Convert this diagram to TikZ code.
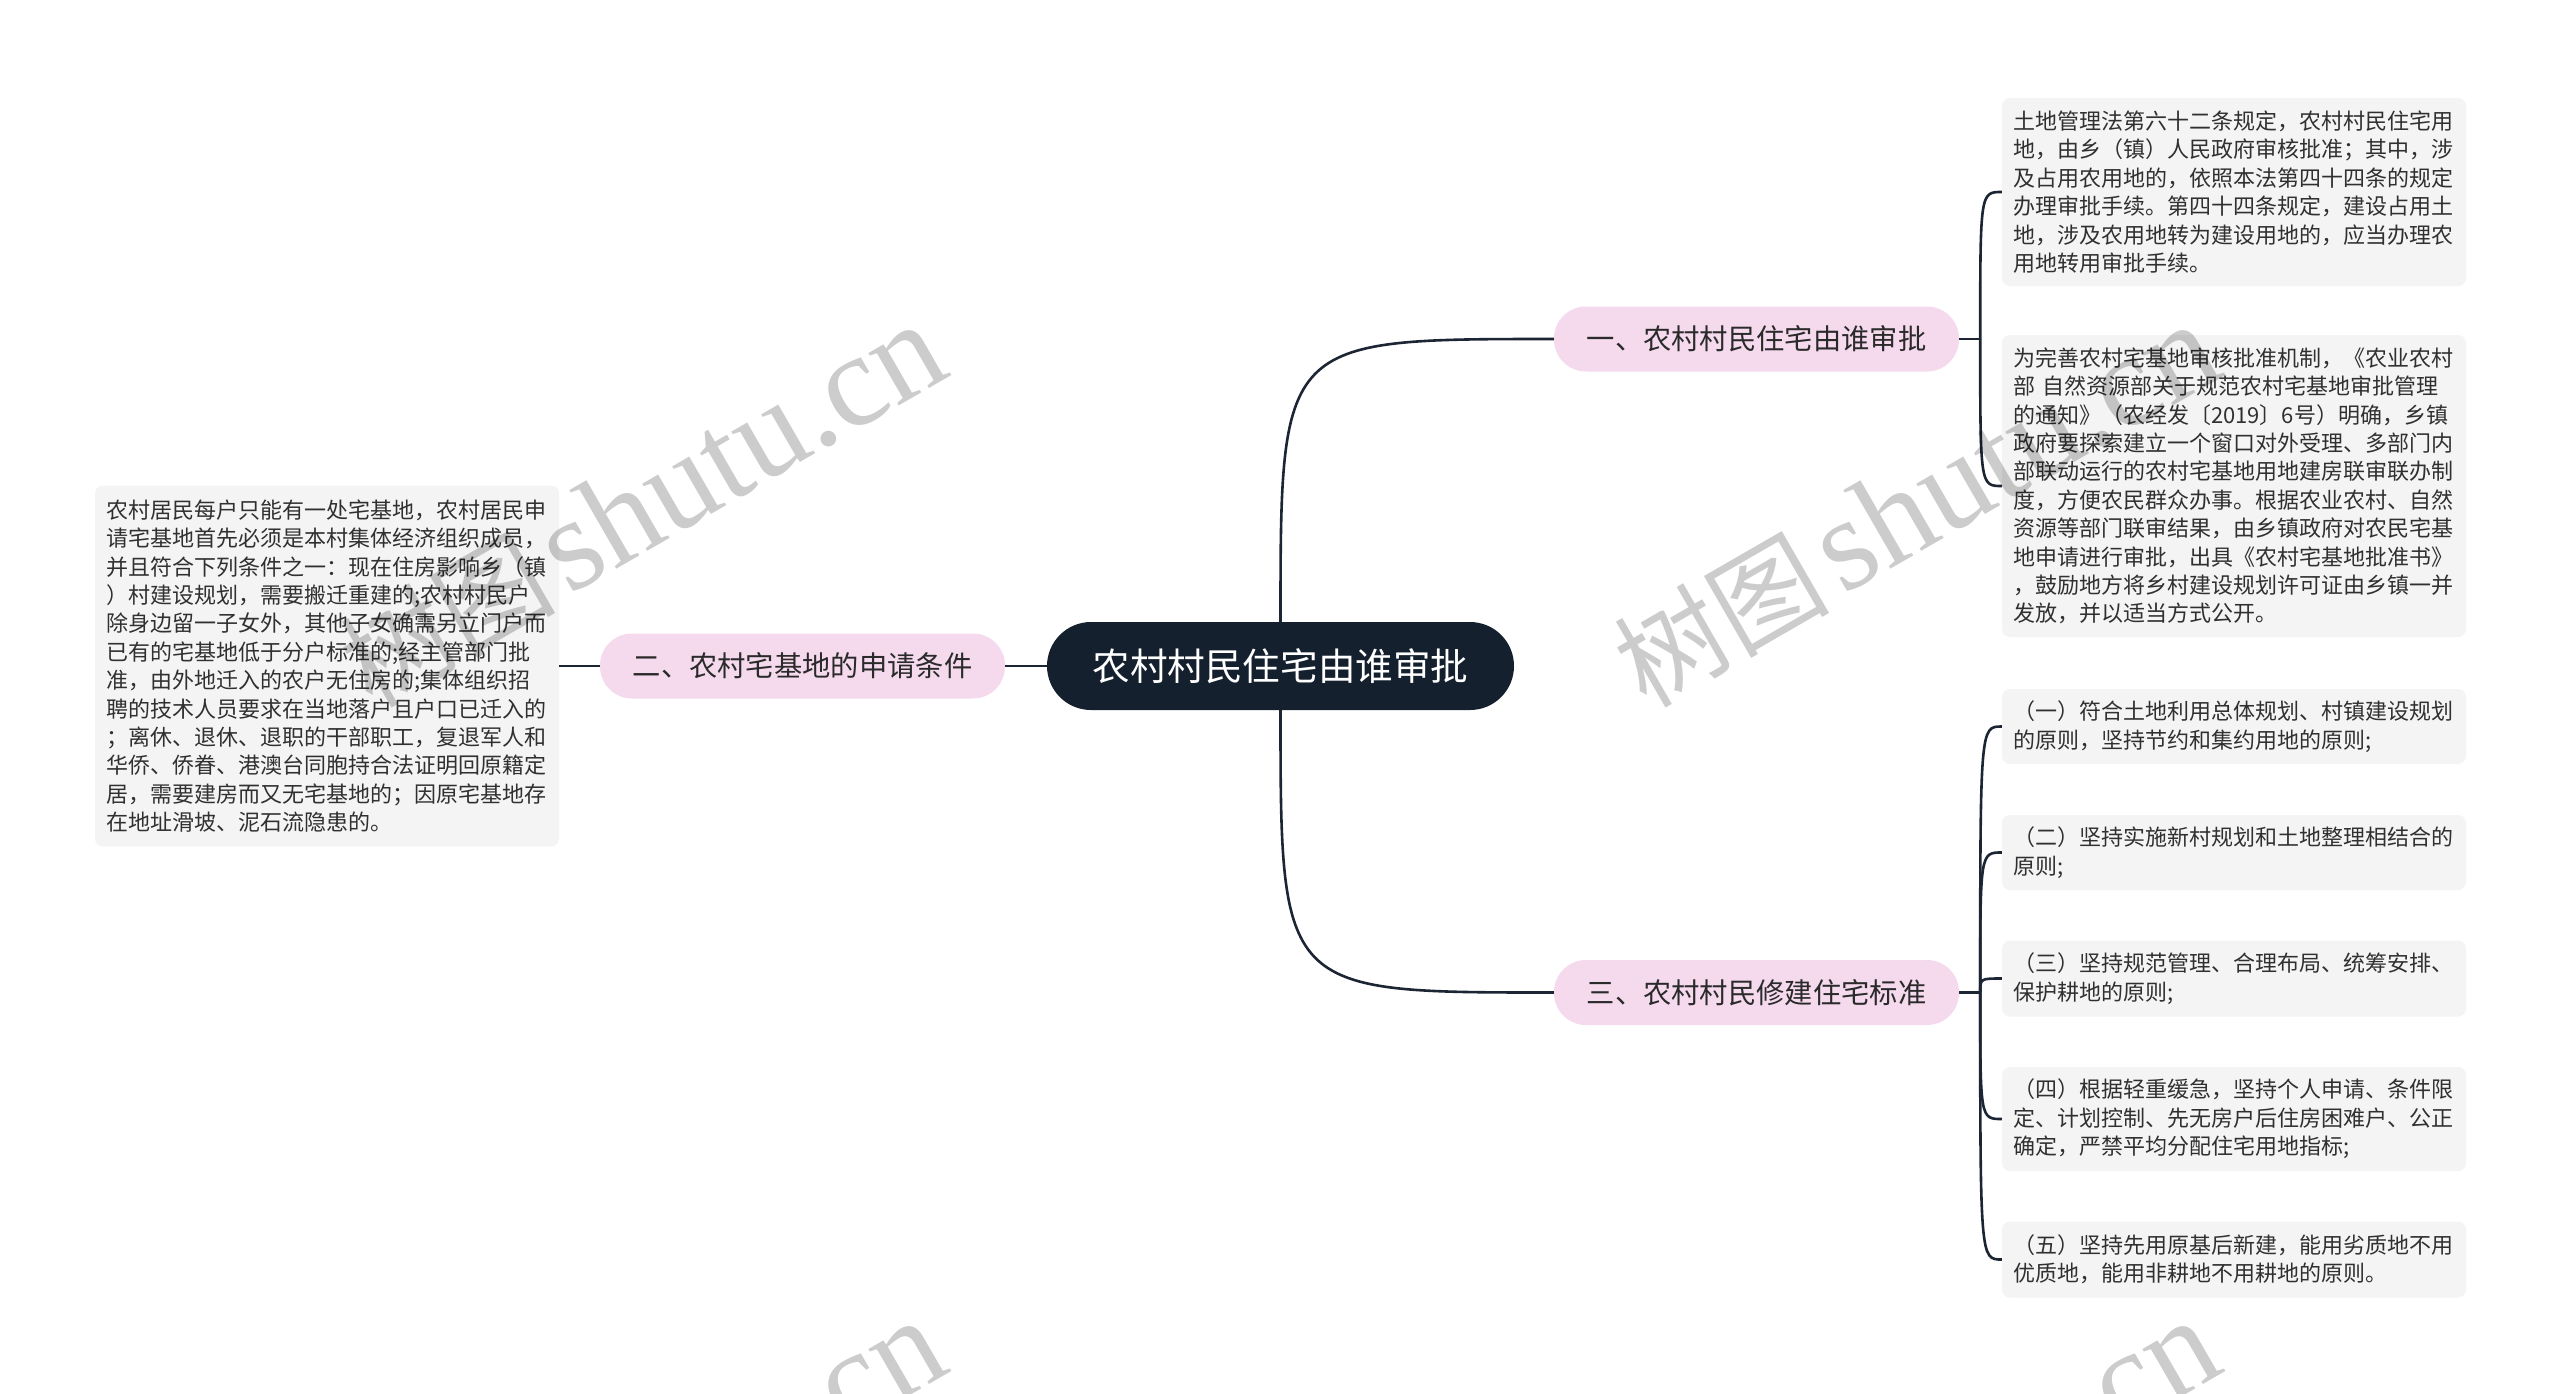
\documentclass[tikz,border=0pt]{standalone}
\usepackage{fontspec}
\setmainfont{Noto Sans CJK SC}
\newfontfamily\wmlatin{Liberation Serif}
\newfontfamily\wmcjk{Noto Sans CJK SC}
\definecolor{linec}{HTML}{1B2533}
\definecolor{rootbg}{HTML}{14202E}
\definecolor{pinkbg}{HTML}{F5DAEE}
\definecolor{leafbg}{HTML}{F4F4F4}
\definecolor{leaftxt}{HTML}{303030}
\definecolor{branchtxt}{HTML}{2A2A2A}
\newcommand{\wmtext}{{\wmcjk\fontsize{108}{108}\selectfont 树图\hspace{12pt}}{\wmlatin\fontsize{132}{132}\selectfont shutu.cn}}
\tikzset{
  conn/.style={draw=linec, line width=2.6pt},
  leafbox/.style={fill=leafbg, rounded corners=8pt, text width=442pt, inner xsep=11pt, inner ysep=0pt, align=left, text=leaftxt, font=\fontsize{22}{28.4}\selectfont},
  branchbox/.style={fill=pinkbg, rounded corners=32pt, minimum width=405pt, minimum height=65pt, inner sep=0pt, text=branchtxt, font=\fontsize{28.3}{34}\selectfont},
  rootbox/.style={fill=rootbg, rounded corners=44pt, minimum width=467pt, minimum height=88pt, inner sep=0pt, text=white, font=\fontsize{37.6}{45}\selectfont},
  wm/.style={anchor=base west, rotate=30, text=black, text opacity=0.2, inner sep=0pt}
}
\begin{document}
\begin{tikzpicture}[x=1pt,y=-1pt]
\fill[white] (0,0) rectangle (2560,1393);
\useasboundingbox (0,0) rectangle (2560,1393);

% root and branches
\node[rootbox] (root) at (1280.5,666) {农村村民住宅由谁审批};
\node[branchbox] (b1) at (1756.5,339) {一、农村村民住宅由谁审批};
\node[branchbox] (b2) at (802.5,666) {二、农村宅基地的申请条件};
\node[branchbox] (b3) at (1756.5,992.5) {三、农村村民修建住宅标准};

% leaves
\node[leafbox, minimum height=188pt] (r1) at (2234,192) {土地管理法第六十二条规定，农村村民住宅用\\地，由乡（镇）人民政府审核批准；其中，涉\\及占用农用地的，依照本法第四十四条的规定\\办理审批手续。第四十四条规定，建设占用土\\地，涉及农用地转为建设用地的，应当办理农\\用地转用审批手续。};
\node[leafbox, minimum height=302pt] (r2) at (2234,486) {为完善农村宅基地审核批准机制，《农业农村\\部 自然资源部关于规范农村宅基地审批管理\\的通知》（农经发〔2019〕6号）明确，乡镇\\政府要探索建立一个窗口对外受理、多部门内\\部联动运行的农村宅基地用地建房联审联办制\\度，方便农民群众办事。根据农业农村、自然\\资源等部门联审结果，由乡镇政府对农民宅基\\地申请进行审批，出具《农村宅基地批准书》\\，鼓励地方将乡村建设规划许可证由乡镇一并\\发放，并以适当方式公开。};
\node[leafbox, minimum height=361pt] (l1) at (327,666) {农村居民每户只能有一处宅基地，农村居民申\\请宅基地首先必须是本村集体经济组织成员，\\并且符合下列条件之一：现在住房影响乡（镇\\）村建设规划，需要搬迁重建的;农村村民户\\除身边留一子女外，其他子女确需另立门户而\\已有的宅基地低于分户标准的;经主管部门批\\准，由外地迁入的农户无住房的;集体组织招\\聘的技术人员要求在当地落户且户口已迁入的\\；离休、退休、退职的干部职工，复退军人和\\华侨、侨眷、港澳台同胞持合法证明回原籍定\\居，需要建房而又无宅基地的；因原宅基地存\\在地址滑坡、泥石流隐患的。};
\node[leafbox, minimum height=75pt] (s1) at (2234,726.5) {（一）符合土地利用总体规划、村镇建设规划\\的原则，坚持节约和集约用地的原则;};
\node[leafbox, minimum height=75pt] (s2) at (2234,852.5) {（二）坚持实施新村规划和土地整理相结合的\\原则;};
\node[leafbox, minimum height=76pt] (s3) at (2234,978.5) {（三）坚持规范管理、合理布局、统筹安排、\\保护耕地的原则;};
\node[leafbox, minimum height=104pt] (s4) at (2234,1119) {（四）根据轻重缓急，坚持个人申请、条件限\\定、计划控制、先无房户后住房困难户、公正\\确定，严禁平均分配住宅用地指标;};
\node[leafbox, minimum height=76pt] (s5) at (2234,1259.5) {（五）坚持先用原基后新建，能用劣质地不用\\优质地，能用非耕地不用耕地的原则。};

% connectors
\draw[conn] (root.north) .. controls (root.north |- b1.west) and (root.north |- b1.west) .. (b1.west);
\draw[conn] (root.south) .. controls (root.south |- b3.west) and (root.south |- b3.west) .. (b3.west);
\draw[conn] (root.west) -- (b2.east);
\draw[conn] (b2.west) -- (l1.east);

\coordinate (j1) at ([xshift=21pt]b1.east);
\coordinate (j3) at ([xshift=21pt]b3.east);
\draw[conn] (b1.east) -- (j1);
\draw[conn] (b3.east) -- (j3);
\foreach \t in {r1,r2}
  \draw[conn] (j1) .. controls (j1 |- \t.west) and (j1 |- \t.west) .. (\t.west);
\foreach \t in {s1,s2,s3,s4,s5}
  \draw[conn] (j3) .. controls (j3 |- \t.west) and (j3 |- \t.west) .. (\t.west);

% watermarks
\node[wm] (w1) at (372,710) {\wmtext};
\node[wm] (w2) at (1646,710) {\wmtext};
\node[wm] (w3) at (372,1706) {\wmtext};
\node[wm] (w4) at (1646,1706) {\wmtext};
\end{tikzpicture}
\end{document}
